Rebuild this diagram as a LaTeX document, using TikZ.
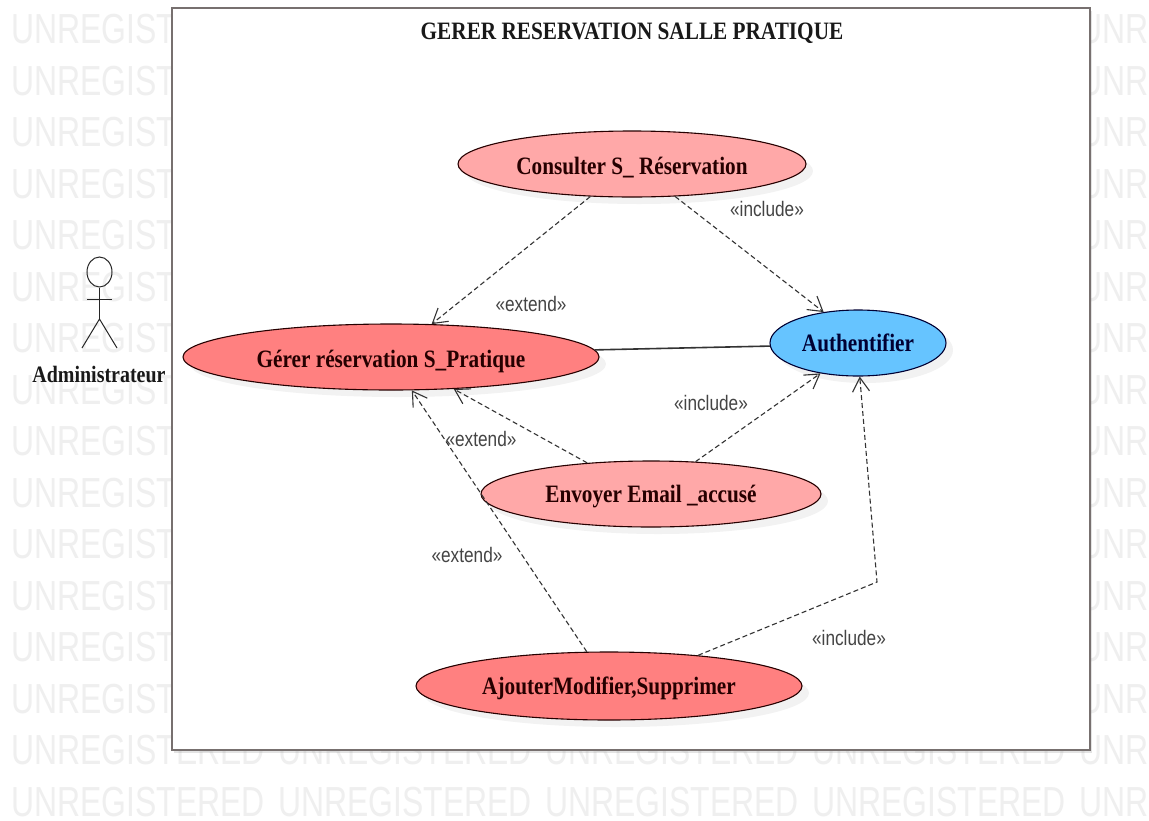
\documentclass[tikz,border=0pt]{standalone}
\usepackage{fontspec}
\setmainfont{Liberation Serif}
\newfontfamily\wmfont[FakeStretch=0.76]{Liberation Sans}
\newfontfamily\lblfont[FakeStretch=0.82]{Liberation Sans}
\newfontfamily\ucfont[FakeStretch=0.85]{Liberation Serif}
\usetikzlibrary{shapes.geometric,arrows.meta,shadows}
\definecolor{wm}{HTML}{EFEFEF}
\definecolor{framec}{HTML}{77706F}
\definecolor{redA}{HTML}{FF8080}
\definecolor{redB}{HTML}{FFA8A8}
\definecolor{blueA}{HTML}{66C4FF}
\definecolor{lblc}{HTML}{444444}
\tikzset{
  px/.style={x=1pt,y=-1pt},
  watermark/.style={font=\wmfont\fontsize{42}{42}\selectfont,text=wm,inner sep=0pt,anchor=west},
  frameb/.style={draw=framec,line width=1.8pt,fill=white,drop shadow={opacity=.22,shadow xshift=2pt,shadow yshift=-3pt}},
  usecase/.style={ellipse,draw=black!85!red,line width=1.1pt,inner sep=0pt,
     font=\ucfont\bfseries\fontsize{25}{25}\selectfont,text=black!85!red,
     text height=22pt,text depth=2pt,
     drop shadow={opacity=.10,shadow xshift=7pt,shadow yshift=-7pt}},
  ucdark/.style={usecase,fill=redA},
  uclight/.style={usecase,fill=redB},
  ucblue/.style={usecase,fill=blueA,draw=black!80!blue,text=black!80!blue,text height=16pt,text depth=0pt},
  dep/.style={draw=black!80,line width=1.1pt,dash pattern=on 5pt off 3pt,-{Straight Barb[length=14pt,width=17pt,line width=1.1pt]}},
  assoc/.style={draw=black!80,line width=1.6pt},
  stereo/.style={font=\lblfont\fontsize{21}{21}\selectfont,text=lblc,inner sep=0pt},
  actorline/.style={draw=black!85,line width=1pt},
}
\begin{document}
\begin{tikzpicture}[px]
\useasboundingbox (0,0) rectangle (1149,820);
\clip (0,0) rectangle (1149,820);
\fill[white] (0,0) rectangle (1149,820);
\foreach \r in {0,...,15}{
  \foreach \c in {0,...,4}{
    \node[watermark] (wm\r-\c) at ({11+267*\c},{29.5+51.5*\r}) {UNREGISTERED};
  }
}
\node[frameb,rectangle,minimum width=918pt,minimum height=742pt,inner sep=0pt] (frame) at (631,379) {};
\node[font=\ucfont\bfseries\fontsize{25}{25}\selectfont,text=black!90,inner sep=0pt] (title) at (632,33) {GERER RESERVATION SALLE PRATIQUE};

\node[uclight,minimum width=348pt,minimum height=66pt] (cons) at (632,164) {Consulter S\_ Réservation};
\node[ucdark,minimum width=416pt,minimum height=66pt] (gerer) at (391,357) {Gérer réservation S\_Pratique};
\node[ucblue,minimum width=176pt,minimum height=66pt] (auth) at (858,343) {Authentifier};
\node[uclight,text height=18pt,minimum width=340pt,minimum height=66pt] (env) at (651,494) {Envoyer Email \_accusé};
\node[ucdark,text height=18pt,minimum width=386pt,minimum height=68pt] (ajout) at (609,686) {AjouterModifier,Supprimer};

\draw[assoc] (gerer.2) -- (auth.182.6);
\draw[dep] (cons.218) -- (gerer.39);
\draw[dep] (cons.-37.5) -- (auth.138);
\draw[dep] (env.154) -- (gerer.-27);
\draw[dep] (env.36) -- (auth.219);
\draw[dep] (ajout.123) -- (gerer.-58);
\coordinate (bend) at (877,582);
\draw[dep] (ajout.19) -- (bend) -- (auth.-87);

\node[stereo] (l1) at (767,209) {«include»};
\node[stereo] (l2) at (531,304) {«extend»};
\node[stereo] (l3) at (711,403) {«include»};
\node[stereo] (l4) at (481,439) {«extend»};
\node[stereo] (l5) at (467,555) {«extend»};
\node[stereo] (l6) at (849,638) {«include»};

\node[ellipse,actorline,minimum width=25pt,minimum height=30pt,inner sep=0pt] (head) at (99.5,272) {};
\coordinate (hip) at (99.5,319);
\coordinate (armL) at (87,299);
\coordinate (armR) at (112,299);
\coordinate (legL) at (82,348);
\coordinate (legR) at (117,348);
\draw[actorline] (head.south) -- (hip);
\draw[actorline] (armL) -- (armR);
\draw[actorline] (legL) -- (hip) -- (legR);
\node[font=\ucfont\bfseries\fontsize{23.5}{23.5}\selectfont,text=black!90,inner sep=0pt] (admin) at (99,374) {Administrateur};
\end{tikzpicture}
\end{document}
